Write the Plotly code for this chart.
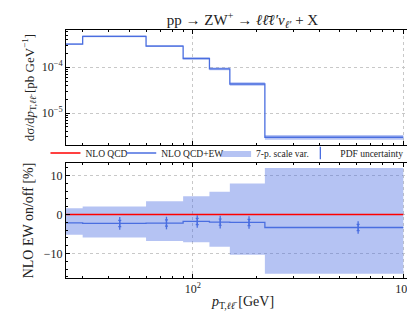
import plotly.graph_objects as go

# ---- data ----
bin_edges = [10, 30, 60, 90, 120, 150, 220, 1000]
bin_centers = [15, 45, 75, 105, 135, 185, 610]
xsec_qcd_ew = [3.2e-4, 4.7e-4, 2.9e-4, 1.55e-4, 9.2e-5, 4.3e-5, 2.95e-6]
xsec_band_lo = [3.08e-4, 4.52e-4, 2.77e-4, 1.47e-4, 8.6e-5, 3.95e-5, 2.6e-6]
xsec_band_hi = [3.32e-4, 4.90e-4, 3.06e-4, 1.64e-4, 9.9e-5, 4.72e-5, 3.3e-6]
ratio_qcd = [0, 0, 0, 0, 0, 0, 0]
ratio_qcd_ew = [-2.15, -2.3, -2.2, -1.8, -1.97, -2.05, -3.35]
ratio_band_lo = [-5.2, -5.9, -6.8, -7.1, -8.3, -10.35, -15.2]
ratio_band_hi = [1.6, 2.05, 3.4, 4.7, 5.8, 7.95, 11.9]
pdf_unc = [0.8, 0.8, 0.8, 0.8, 0.8, 0.8, 0.8]
x_tickvals = [100, 1000]
x_ticktext = ["10<sup>2</sup>", "10<sup>3</sup>"]
y_tickvals = [1e-5, 1e-4]
y_ticktext = ["10<sup>−5</sup>", "10<sup>−4</sup>"]
r_tickvals = [-10, 0, 10]


def step(v):
    return list(v) + [v[-1]]


BLUE = "#4a6ee0"
BAND = "rgba(70,105,225,0.40)"
RED = "#ff0000"
FONT = "Liberation Serif"

fig = go.Figure()

# bottom panel
fig.add_trace(go.Scatter(x=bin_edges, y=step(ratio_band_lo), mode="lines", line=dict(width=0, shape="hv"),
                         showlegend=False, hoverinfo="skip", xaxis="x2", yaxis="y2"))
fig.add_trace(go.Scatter(x=bin_edges, y=step(ratio_band_hi), mode="lines", line=dict(width=0, shape="hv"),
                         fill="tonexty", fillcolor=BAND, name="7-p. scale var.", xaxis="x2", yaxis="y2",
                         legend="legend3"))
fig.add_trace(go.Scatter(x=bin_edges, y=step(ratio_qcd), mode="lines", line=dict(color=RED, width=1.5, shape="hv"),
                         name="NLO QCD", xaxis="x2", yaxis="y2", legend="legend"))
fig.add_trace(go.Scatter(x=bin_edges, y=step(ratio_qcd_ew), mode="lines", line=dict(color=BLUE, width=1.3, shape="hv"),
                         name="NLO QCD+EW", xaxis="x2", yaxis="y2", legend="legend2"))
fig.add_trace(go.Scatter(x=bin_centers, y=ratio_qcd_ew, mode="markers",
                         marker=dict(symbol="line-ns-open", size=9, color=BLUE, line=dict(color=BLUE, width=1.3)),
                         error_y=dict(type="data", array=pdf_unc, color=BLUE, thickness=1.2, width=1.5),
                         name="PDF uncertainty", xaxis="x2", yaxis="y2", legend="legend4"))

# top panel
fig.add_trace(go.Scatter(x=bin_edges, y=step(xsec_band_lo), mode="lines", line=dict(width=0, shape="hv"),
                         showlegend=False, hoverinfo="skip", xaxis="x", yaxis="y"))
fig.add_trace(go.Scatter(x=bin_edges, y=step(xsec_band_hi), mode="lines", line=dict(width=0, shape="hv"),
                         fill="tonexty", fillcolor=BAND, showlegend=False, xaxis="x", yaxis="y"))
fig.add_trace(go.Scatter(x=bin_edges, y=step(xsec_qcd_ew), mode="lines", line=dict(color=BLUE, width=1.3, shape="hv"),
                         showlegend=False, xaxis="x", yaxis="y"))

x_minor = [v * m for v in (10, 100) for m in range(2, 10)]
y_minor_top = [v * m for v in (1e-6, 1e-5, 1e-4) for m in range(2, 10)]

axis_common = dict(showline=True, linecolor="black", linewidth=1, mirror="allticks", ticks="inside",
                   ticklen=4, tickcolor="black", showgrid=True, gridcolor="#c8c8c8", griddash="dot",
                   gridwidth=1, zeroline=False, tickfont=dict(family=FONT, size=12, color="#222"))
minor_common = dict(ticklen=2, ticks="inside", tickcolor="black", showgrid=False)


def leg(xpos):
    return dict(orientation="h", x=xpos, xanchor="left", y=0.504, yanchor="middle",
                font=dict(family=FONT, size=9.5), itemwidth=30, bgcolor="rgba(0,0,0,0)")


xr = [1.39794, 3.0792]
fig.update_layout(
    width=415, height=311,
    margin=dict(l=58, r=3, t=22, b=41),
    paper_bgcolor="white", plot_bgcolor="white",
    font=dict(family=FONT, color="#222"),
    title=dict(text="pp → ZW<sup>+</sup> → <i>ℓℓ̄ℓ′ν</i><sub><i>ℓ′</i></sub> + X",
               x=0.565, xanchor="center", y=0.962, yanchor="middle", font=dict(family=FONT, size=15)),
    xaxis=dict(type="log", range=xr, domain=[0, 1], anchor="y", showticklabels=False,
               tickvals=x_tickvals, ticktext=x_ticktext, minor=dict(tickvals=x_minor, **minor_common),
               **axis_common),
    yaxis=dict(type="log", range=[-5.699, -3.187], domain=[0.5363, 1], anchor="x",
               tickvals=y_tickvals, ticktext=y_ticktext,
               minor=dict(tickvals=y_minor_top, **minor_common),
               title=dict(text="dσ/d<i>p</i><sub>T,<i>ℓℓ̄</i></sub> [pb GeV<sup>−1</sup>]",
                          font=dict(family=FONT, size=13), standoff=4),
               **axis_common),
    xaxis2=dict(type="log", range=xr, domain=[0, 1], anchor="y2",
                tickvals=x_tickvals, ticktext=x_ticktext,
                minor=dict(tickvals=x_minor, **minor_common),
                title=dict(text="<i>p</i><sub>T,<i>ℓℓ̄</i></sub> [GeV]", font=dict(family=FONT, size=14), standoff=0),
                **axis_common),
    yaxis2=dict(range=[-16.3, 13.2], domain=[0, 0.4637], anchor="x2",
                tickvals=r_tickvals, minor=dict(dtick=2, tick0=0, **minor_common),
                title=dict(text="NLO EW on/off [%]", font=dict(family=FONT, size=14), standoff=6),
                **axis_common),
    legend=leg(-0.058),
    legend2=leg(0.156),
    legend3=leg(0.424),
    legend4=leg(0.662),
    showlegend=True,
)

fig.write_html("out.html")
